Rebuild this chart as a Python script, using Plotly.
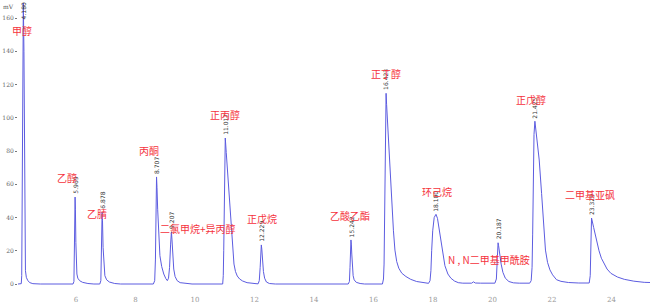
import plotly.graph_objects as go

# ---- chromatogram trace (retention time in min, signal in mV) ----
time_min = [
    4.05, 4.16, 4.175, 4.19, 4.21, 4.229, 4.25, 4.27, 4.285, 4.30, 4.33, 4.38, 4.45, 4.55, 4.8,
    5.90, 5.93, 5.945, 5.958, 5.969, 5.98, 5.995, 6.01, 6.03, 6.06, 6.12, 6.22, 6.4, 6.6,
    6.80, 6.835, 6.855, 6.868, 6.878, 6.89, 6.91, 6.935, 6.97, 7.03, 7.12, 7.3, 7.5,
    8.60, 8.645, 8.67, 8.688, 8.707, 8.722, 8.745, 8.775, 8.82, 8.88, 8.95, 9.02, 9.07,
    9.11, 9.145, 9.18, 9.207, 9.225, 9.25, 9.285, 9.33, 9.40, 9.5, 9.7, 9.9,
    10.93, 10.95, 10.965, 10.985, 11.0, 11.017, 11.05, 11.10, 11.16, 11.22, 11.27, 11.31,
    11.36, 11.42, 11.5, 11.6, 11.75, 11.9, 12.05,
    12.12, 12.16, 12.19, 12.212, 12.229, 12.245, 12.27, 12.30, 12.34, 12.40, 12.5, 12.7,
    15.15, 15.19, 15.21, 15.228, 15.242, 15.255, 15.27, 15.29, 15.315, 15.35, 15.42, 15.55, 15.7,
    16.30, 16.335, 16.355, 16.37, 16.39, 16.41, 16.423, 16.44, 16.477, 16.53, 16.6, 16.67,
    16.72, 16.78, 16.85, 16.95, 17.09, 17.25, 17.45, 17.7, 17.85,
    17.90, 17.93, 17.955, 17.99, 18.04, 18.10, 18.15, 18.22, 18.31, 18.40, 18.5, 18.6,
    18.72, 18.85, 19.0, 19.3, 19.36, 19.42, 19.6, 20.08,
    20.13, 20.155, 20.172, 20.187, 20.205, 20.24, 20.29, 20.35, 20.43, 20.55, 20.7, 20.9, 21.25,
    21.30, 21.33, 21.35, 21.37, 21.395, 21.425, 21.45, 21.5, 21.57, 21.65, 21.72, 21.78,
    21.85, 21.93, 22.02, 22.15, 22.3, 22.55, 22.9, 23.2,
    23.25, 23.285, 23.30, 23.315, 23.329, 23.40, 23.48, 23.58, 23.66, 23.75, 23.85, 23.98,
    24.2, 24.43, 24.75, 25.1, 25.3,
]
signal_mv = [
    0, 0.2, 5, 60, 140, 169, 140, 70, 20, 8, 4, 2, 0.8, 0.2, 0,
    0, 1.5, 15, 40, 52.3, 45, 25, 12, 6, 3.5, 2, 1, 0.3, 0,
    0, 2, 18, 36, 43.3, 38, 22, 10, 5, 2.5, 1.2, 0.3, 0,
    0, 2, 15, 42, 64.4, 58, 45, 30, 17, 10.5, 6, 3.2, 2.0,
    3.5, 10, 24, 31.3, 27, 17, 9, 4.5, 2, 0.8, 0.2, 0,
    0, 5, 20, 50, 75, 87.8, 79, 66, 50, 33, 20, 12,
    7.5, 4.8, 3, 1.8, 0.8, 0.3, 0.2,
    0.1, 2, 10, 20, 23.5, 21, 14, 7.5, 3.5, 1.2, 0.3, 0,
    0, 1.5, 10, 22, 26.5, 24, 18, 10, 5, 2.5, 1, 0.3, 0,
    0, 3, 12, 30, 70, 105, 114.7, 108, 94.6, 74.6, 52, 32,
    20.4, 13.5, 9.5, 6.5, 4.5, 2.8, 1.5, 0.6, 0.4,
    2, 8, 20, 32, 40, 41.9, 39.5, 32, 20, 11, 6, 3.5,
    1.8, 0.8, 0.5, 0.5, 1.3, 0.6, 0.5, 0.5,
    3, 12, 21, 24.8, 23, 18, 12, 7, 3.5, 1.5, 0.7, 0.5, 0.5,
    2, 10, 30, 65, 90, 97.9, 94, 87, 74.6, 54.5, 33, 20.4,
    13, 8.5, 5.5, 2.6, 1.6, 0.9, 0.6, 0.6,
    0.6, 5, 18, 32, 39.7, 34, 27, 20, 15.5, 12.4, 9, 6.4,
    4.2, 2.8, 1.7, 1.0, 0.9,
]

# ---- peak table ----
peak_rt_labels = ["4.180", "5.969", "6.878", "8.707", "9.207", "11.017", "12.229",
                  "15.242", "16.423", "18.100", "20.187", "21.425", "23.329"]
peak_rt = [4.229, 5.969, 6.878, 8.707, 9.207, 11.017, 12.229,
           15.242, 16.423, 18.100, 20.187, 21.425, 23.329]
peak_height = [169, 52.3, 43.3, 64.4, 31.3, 87.8, 23.5,
               26.5, 114.7, 41.9, 24.8, 97.9, 39.7]

compound_names = ["甲醇", "乙醇", "乙腈", "丙酮", "二氯甲烷+异丙醇", "正丙醇", "正戊烷",
                  "乙酸乙酯", "正丁醇", "环己烷", "N , N二甲基甲酰胺", "正戊醇", "二甲基亚砜"]

y_ticks = [0, 20, 40, 60, 80, 100, 120, 140, 160]
x_ticks = [6, 8, 10, 12, 14, 16, 18, 20, 22, 24]

# label centre positions (data coordinates) for compound names
name_pos_x = [4.185, 5.69, 6.72, 8.46, 10.11, 11.01, 12.25, 15.21, 16.42, 18.13, 19.88, 21.29, 23.29]
name_pos_y = [152.2, 63.8, 42.5, 80.2, 33.5, 102.1, 39.5, 41.5, 126.7, 55.9, 14.9, 110.7, 54.1]

LINE = "#5c5ce0"
RED = "#f5323c"

fig = go.Figure()
fig.add_trace(go.Scatter(x=time_min, y=signal_mv, mode="lines",
                         line=dict(color=LINE, width=1), hoverinfo="skip",
                         showlegend=False))

annotations = []
for lab, t, h in zip(peak_rt_labels, peak_rt, peak_height):
    if h > 160:
        annotations.append(dict(x=t, y=170.5, xref="x", yref="y", text=lab,
                                textangle=-90, showarrow=False, yanchor="top",
                                xanchor="center",
                                font=dict(size=6, color="#333", family="DejaVu Sans")))
    else:
        annotations.append(dict(x=t, y=h + 0.6, xref="x", yref="y", text=lab,
                                textangle=-90, showarrow=False, yanchor="bottom",
                                xanchor="center",
                                font=dict(size=6, color="#333", family="DejaVu Sans")))
for name, nx, ny in zip(compound_names, name_pos_x, name_pos_y):
    annotations.append(dict(x=nx, y=ny, xref="x", yref="y", text=name,
                            showarrow=False, xanchor="center", yanchor="middle",
                            font=dict(size=10, color=RED, family="Noto Sans CJK SC")))
annotations.append(dict(x=0, y=1, xref="paper", yref="paper", text="mV",
                        showarrow=False, xanchor="left", yanchor="top", xshift=-17,
                        yshift=-1,
                        font=dict(size=6, color="#555", family="DejaVu Serif")))

fig.update_layout(
    width=650, height=308,
    margin=dict(l=18, r=0, t=0, b=18),
    paper_bgcolor="white", plot_bgcolor="white",
    annotations=annotations,
    xaxis=dict(range=[4.05, 25.294], tickvals=x_ticks, showgrid=False, zeroline=False,
               showline=False, ticks="", ticklabelstandoff=4,
               tickfont=dict(size=7, color="#999", family="DejaVu Serif")),
    yaxis=dict(range=[-3.61, 170.83], tickvals=y_ticks, showgrid=False, zeroline=False,
               showline=False, ticks="outside", ticklen=2, tickcolor="#777",
               tickfont=dict(size=6, color="#666", family="DejaVu Serif")),
)

fig.write_html("out.html")
